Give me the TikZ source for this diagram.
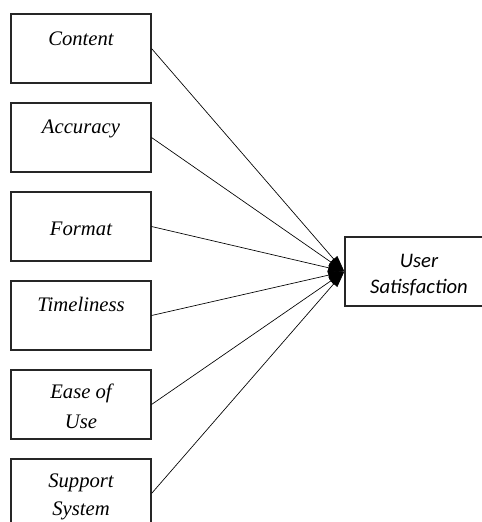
\documentclass[tikz,border=0pt]{standalone}
\usepackage{fontspec}
\setmainfont{Liberation Serif}
\newfontfamily\carlito{Carlito}
\usetikzlibrary{arrows.meta}
\begin{document}
\begin{tikzpicture}[x=0.75pt,y=-0.75pt,
  box/.style={draw=black!85, line width=0.8pt, minimum width=105pt, minimum height=51.75pt, inner sep=0pt},
  lt/.style={font=\fontsize{15.5}{18}\selectfont\itshape, inner sep=0pt, anchor=base},
  rt/.style={font=\carlito\fontsize{15.5}{18}\selectfont\itshape, inner sep=0pt, anchor=base},
  conn/.style={line width=0.5pt, -{Triangle[length=12pt,width=7pt]}, shorten >=0.3pt}]
\useasboundingbox (0,0) rectangle (482,522);
\clip (0,0) rectangle (482,522);
\node[box] (c1) at (81,48.5) {};
\node[box] (c2) at (81,137.5) {};
\node[box] (c3) at (81,226.5) {};
\node[box] (c4) at (81,315.5) {};
\node[box] (c5) at (81,404.5) {};
\node[box] (c6) at (81,493.5) {};
\node[box, minimum width=111pt] (us) at (419,271.5) {};
\node[lt] at (81,45) {Content};
\node[lt] at (81,133) {Accuracy};
\node[lt] at (81,235) {Format};
\node[lt] at (81,311) {Timeliness};
\node[lt] at (81,398) {Ease of};
\node[lt] at (81,428) {Use};
\node[lt] at (81,487) {Support};
\node[lt] at (81,515) {System};
\node[rt] at (419,267) {User};
\node[rt] at (419,293) {Satisfaction};
\foreach \i in {1,...,6} \draw[conn] (c\i.east) -- (us.west);
\end{tikzpicture}
\end{document}
